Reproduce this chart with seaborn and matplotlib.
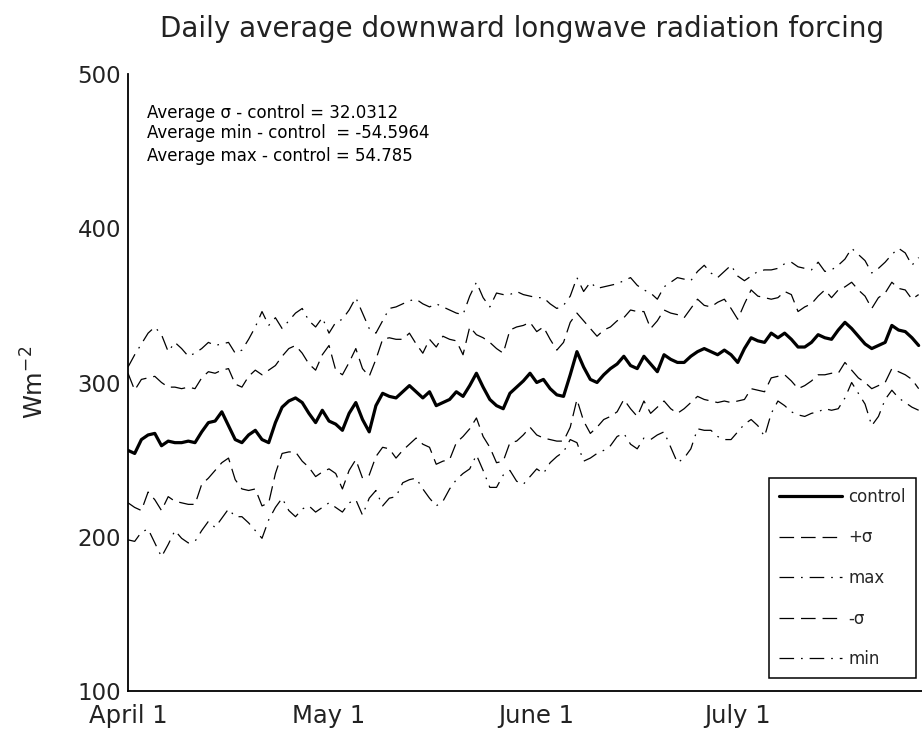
import matplotlib
matplotlib.use("Agg")
import matplotlib.pyplot as plt
import pandas as pd
import seaborn as sns

# Daily values from April 1 (W m^-2)
start_date = "2000-04-01"

control = [
    256, 254, 263, 266, 267, 259, 262, 261, 261, 262, 261, 268, 274, 275, 281, 272,
    263, 261, 266, 269, 263, 261, 274, 284, 288, 290, 287, 280, 274, 282, 275, 273,
    269, 280, 287, 276, 268, 285, 293, 291, 290, 294, 298, 294, 290, 294, 285, 287,
    289, 294, 291, 298, 306, 297, 289, 285, 283, 293, 297, 301, 306, 300, 302, 296,
    292, 291, 305, 320, 310, 302, 300, 305, 309, 312, 317, 311, 309, 317, 312, 307,
    318, 315, 313, 313, 317, 320, 322, 320, 318, 321, 318, 313, 322, 329, 327, 326,
    332, 329, 332, 328, 323, 323, 326, 331, 329, 328, 334, 339, 335, 330, 325, 322,
    324, 326, 337, 334, 333, 329, 324,
]

plus_sigma = [
    306, 295, 302, 303, 304, 300, 297, 297, 296, 297, 296, 303, 307, 306, 308, 309,
    299, 297, 304, 308, 305, 308, 311, 317, 322, 324, 319, 312, 308, 318, 324, 308,
    305, 313, 322, 309, 304, 315, 328, 329, 328, 328, 332, 325, 319, 328, 323, 330,
    328, 327, 318, 336, 331, 329, 326, 322, 319, 334, 336, 337, 339, 333, 336, 328,
    321, 326, 339, 345, 340, 335, 330, 334, 336, 340, 342, 347, 346, 346, 335, 340,
    347, 345, 344, 342, 348, 354, 350, 349, 352, 354, 348, 341, 351, 360, 356, 355,
    354, 355, 359, 357, 346, 349, 351, 356, 360, 355, 360, 362, 365, 360, 356, 348,
    355, 358, 365, 361, 360, 354, 357,
]

maximum = [
    310, 318, 325, 332, 336, 331, 320, 326, 322, 317, 319, 322, 326, 324, 325, 326,
    319, 321, 328, 336, 346, 337, 342, 335, 340, 345, 348, 340, 336, 342, 332, 339,
    341, 347, 355, 345, 335, 332, 340, 348, 349, 351, 353, 354, 351, 349, 351, 349,
    347, 345, 344, 356, 365, 355, 349, 358, 357, 357, 359, 357, 356, 355, 355, 351,
    348, 350, 356, 368, 359, 365, 361, 362, 363, 364, 366, 368, 363, 360, 358, 354,
    362, 365, 368, 367, 366, 372, 376, 371, 368, 372, 376, 369, 366, 369, 372, 373,
    373, 374, 377, 378, 375, 374, 373, 378, 372, 373, 376, 380, 387, 383, 379, 371,
    374, 378, 383, 387, 384, 376, 381,
]

minus_sigma = [
    222, 219, 217, 229, 224, 217, 226, 223, 222, 221, 221, 234, 238, 243, 248, 251,
    237, 231, 230, 231, 220, 222, 241, 254, 255, 255, 249, 245, 239, 242, 244, 241,
    231, 243, 250, 238, 240, 252, 258, 257, 251, 256, 260, 264, 260, 258, 247, 249,
    250, 261, 265, 270, 277, 265, 258, 248, 249, 261, 262, 266, 271, 266, 264, 263,
    262, 262, 271, 289, 275, 267, 271, 276, 278, 281, 289, 283, 278, 288, 280, 284,
    288, 283, 280, 283, 287, 291, 289, 288, 287, 288, 287, 288, 289, 296, 295, 294,
    303, 304, 305, 301, 296, 298, 301, 305, 305, 306, 306, 313, 308, 303, 300, 296,
    298, 300, 309, 307, 305, 302, 296,
]

minimum = [
    198, 197, 203, 205, 196, 187, 195, 204, 199, 196, 197, 204, 210, 206, 212, 218,
    213, 213, 209, 204, 199, 211, 219, 225, 217, 213, 218, 220, 216, 219, 222, 219,
    216, 222, 224, 214, 225, 230, 220, 225, 226, 235, 237, 238, 231, 225, 220, 223,
    231, 237, 241, 244, 253, 243, 232, 232, 240, 243, 236, 234, 239, 244, 241, 248,
    252, 255, 263, 261, 249, 251, 254, 256, 259, 265, 267, 260, 257, 264, 263, 266,
    268, 258, 248, 251, 257, 270, 269, 269, 265, 263, 263, 268, 273, 276, 272, 265,
    280, 288, 285, 281, 279, 278, 280, 281, 283, 282, 283, 290, 300, 293, 286, 272,
    278, 289, 295, 290, 287, 284, 282,
]

series_labels = ["control", "+σ", "max", "-σ", "min"]

tick_dates = ["2000-04-01", "2000-05-01", "2000-06-01", "2000-07-01"]
tick_labels = ["April 1", "May 1", "June 1", "July 1"]
y_ticks = [100, 200, 300, 400, 500]

stats_lines = [
    "Average σ - control = 32.0312",
    "Average min - control  = -54.5964",
    "Average max - control = 54.785",
]

title_text = "Daily average downward longwave radiation forcing"
y_label = "Wm$^{-2}$"

# ---------------------------------------------------------------------------
sns.set_theme(style="white")
plt.rcParams["font.family"] = ["DejaVu Sans"]
plt.rcParams["lines.scale_dashes"] = False

dates = pd.date_range(start_date, periods=len(control), freq="D")
frame = pd.DataFrame({
    "date": dates,
    "control": control,
    "+σ": plus_sigma,
    "max": maximum,
    "-σ": minus_sigma,
    "min": minimum,
})

dashed = (0, (10.5, 5.0))
dashdot = (0, (10.5, 5.0, 1.2, 5.0))
styles = {
    "control": dict(linewidth=2.3, linestyle="-"),
    "+σ": dict(linewidth=0.9, linestyle=dashed),
    "max": dict(linewidth=0.9, linestyle=dashdot),
    "-σ": dict(linewidth=0.9, linestyle=dashed),
    "min": dict(linewidth=0.9, linestyle=dashdot),
}

W, H = 922, 740
fig = plt.figure(figsize=(W / 100, H / 100), dpi=100)
fig.patch.set_facecolor("white")
ax = fig.add_axes([128 / W, 1 - 691 / H, 1 - 128 / W, (691 - 74) / H])
ax.set_facecolor("white")

for name in series_labels:
    sns.lineplot(data=frame, x="date", y=name, ax=ax, color="black",
                 estimator=None, errorbar=None, label=name, **styles[name])

ax.set_ylim(100, 500)
ax.set_xlim(pd.Timestamp(start_date), pd.Timestamp(start_date) + pd.Timedelta(days=118.5))
ax.set_yticks(y_ticks)
ax.set_yticklabels([str(v) for v in y_ticks])
ax.set_xticks(pd.to_datetime(tick_dates))
ax.set_xticklabels(tick_labels)

for side in ["top", "right"]:
    ax.spines[side].set_visible(False)
for side in ["left", "bottom"]:
    ax.spines[side].set_color("black")
    ax.spines[side].set_linewidth(1.3)

ax.tick_params(axis="both", direction="in", length=6, width=1.1, color="black",
               labelcolor="#222222")
ax.tick_params(axis="y", pad=5, labelsize=16.5)
ax.tick_params(axis="x", pad=9, labelsize=17.5)
ax.grid(False)

ax.set_xlabel("")
ax.set_ylabel(y_label, fontsize=17.5, color="#222222")
ax.yaxis.set_label_coords(-0.10, 0.5)

fig.text(0.566, 1 - 37 / H, title_text, ha="center", va="baseline",
         fontsize=20, color="#222222")

for line, yc in zip(stats_lines, [113, 133, 156]):
    fig.text(147 / W, 1 - yc / H, line, ha="left", va="center",
             fontsize=12, color="black")

handles, labels = ax.get_legend_handles_labels()
order = [labels.index(n) for n in series_labels]
leg = ax.legend([handles[i] for i in order], [labels[i] for i in order],
                loc="lower right", bbox_to_anchor=(916 / W, 62 / H),
                bbox_transform=fig.transFigure, fontsize=12,
                handlelength=3.8, handletextpad=0.4, labelspacing=1.35,
                borderpad=0.6, borderaxespad=0, frameon=True, fancybox=False,
                framealpha=1, edgecolor="black")
leg.get_frame().set_linewidth(1.1)

fig.savefig("out.png", dpi=100, facecolor="white")
